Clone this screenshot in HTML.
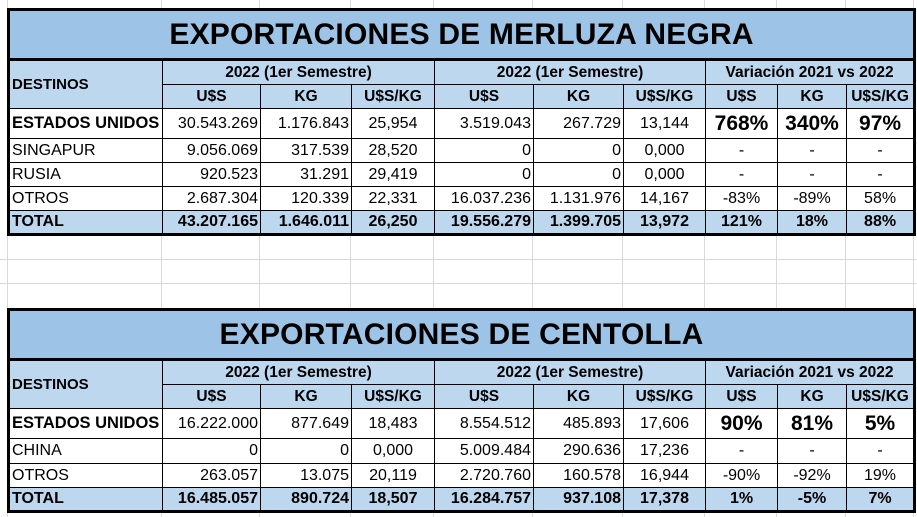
<!DOCTYPE html>
<html><head><meta charset="utf-8"><style>
*{margin:0;padding:0;box-sizing:border-box}
body{width:917px;height:517px;background:#fff;position:relative;overflow:hidden;font-family:"Liberation Sans",Arial,sans-serif;color:#000}
.gv{position:absolute;top:0;width:1px;height:517px;background:#d9d9d9}
.gh{position:absolute;left:0;height:1px;width:917px;background:#d9d9d9}
table{position:absolute;left:7px;width:906px;border-collapse:collapse;table-layout:fixed;border:3px solid #000;background:#fff}
td{border:1px solid #000;font-size:16px;padding:0 2px;white-space:nowrap;overflow:hidden;line-height:1}
td.t{background:#9dc3e6;font-size:30px;font-weight:bold;text-align:center;border-bottom:3px solid #000;letter-spacing:0.2px}
.h td{background:#bdd7ee;font-weight:bold;text-align:center;font-size:15.5px}
td.d{background:#bdd7ee;font-weight:bold;text-align:left;font-size:15px}
.r{text-align:right}.c{text-align:center}
.eu td{font-size:16px}
.eu td.n{font-weight:bold;font-size:16.5px;text-align:left;padding-left:2px}
.eu td.b{font-weight:bold;font-size:21px;text-align:center}
.tot td{background:#bdd7ee;font-weight:bold}
</style></head><body>
<div class="gv" style="left:7px"></div><div class="gv" style="left:161px"></div><div class="gv" style="left:259px"></div><div class="gv" style="left:350px"></div><div class="gv" style="left:433px"></div><div class="gv" style="left:532px"></div><div class="gv" style="left:622px"></div><div class="gv" style="left:704px"></div><div class="gv" style="left:776px"></div><div class="gv" style="left:845px"></div><div class="gv" style="left:913px"></div>
<div class="gh" style="top:259px"></div><div class="gh" style="top:283px"></div>

<table style="top:8px;height:226px">
<colgroup><col style="width:154px"><col style="width:98px"><col style="width:91px"><col style="width:83px"><col style="width:99px"><col style="width:90px"><col style="width:82px"><col style="width:72px"><col style="width:69px"><col style="width:68px"></colgroup>
<tr style="height:50px"><td class="t" colspan="10">EXPORTACIONES DE MERLUZA NEGRA</td></tr>
<tr class="h" style="height:25px"><td class="d" rowspan="2">DESTINOS</td><td colspan="3">2022 (1er Semestre)</td><td colspan="3">2022 (1er Semestre)</td><td colspan="3">Variación 2021 vs 2022</td></tr>
<tr class="h" style="height:24px"><td>U$S</td><td>KG</td><td>U$S/KG</td><td>U$S</td><td>KG</td><td>U$S/KG</td><td>U$S</td><td>KG</td><td>U$S/KG</td></tr>
<tr class="eu" style="height:30px"><td class="n">ESTADOS UNIDOS</td><td class="r">30.543.269</td><td class="r">1.176.843</td><td class="c">25,954</td><td class="r">3.519.043</td><td class="r">267.729</td><td class="c">13,144</td><td class="b">768%</td><td class="b">340%</td><td class="b">97%</td></tr>
<tr style="height:24px"><td>SINGAPUR</td><td class="r">9.056.069</td><td class="r">317.539</td><td class="c">28,520</td><td class="r">0</td><td class="r">0</td><td class="c">0,000</td><td class="c">-</td><td class="c">-</td><td class="c">-</td></tr>
<tr style="height:24px"><td>RUSIA</td><td class="r">920.523</td><td class="r">31.291</td><td class="c">29,419</td><td class="r">0</td><td class="r">0</td><td class="c">0,000</td><td class="c">-</td><td class="c">-</td><td class="c">-</td></tr>
<tr style="height:24px"><td>OTROS</td><td class="r">2.687.304</td><td class="r">120.339</td><td class="c">22,331</td><td class="r">16.037.236</td><td class="r">1.131.976</td><td class="c">14,167</td><td class="c">-83%</td><td class="c">-89%</td><td class="c">58%</td></tr>
<tr class="tot" style="height:24px"><td>TOTAL</td><td class="r">43.207.165</td><td class="r">1.646.011</td><td class="c">26,250</td><td class="r">19.556.279</td><td class="r">1.399.705</td><td class="c">13,972</td><td class="c">121%</td><td class="c">18%</td><td class="c">88%</td></tr>
</table>

<table style="top:308px;height:203px">
<colgroup><col style="width:154px"><col style="width:98px"><col style="width:91px"><col style="width:83px"><col style="width:99px"><col style="width:90px"><col style="width:82px"><col style="width:72px"><col style="width:69px"><col style="width:68px"></colgroup>
<tr style="height:50px"><td class="t" colspan="10">EXPORTACIONES DE CENTOLLA</td></tr>
<tr class="h" style="height:25px"><td class="d" rowspan="2">DESTINOS</td><td colspan="3">2022 (1er Semestre)</td><td colspan="3">2022 (1er Semestre)</td><td colspan="3">Variación 2021 vs 2022</td></tr>
<tr class="h" style="height:24px"><td>U$S</td><td>KG</td><td>U$S/KG</td><td>U$S</td><td>KG</td><td>U$S/KG</td><td>U$S</td><td>KG</td><td>U$S/KG</td></tr>
<tr class="eu" style="height:30px"><td class="n">ESTADOS UNIDOS</td><td class="r">16.222.000</td><td class="r">877.649</td><td class="c">18,483</td><td class="r">8.554.512</td><td class="r">485.893</td><td class="c">17,606</td><td class="b">90%</td><td class="b">81%</td><td class="b">5%</td></tr>
<tr style="height:25px"><td>CHINA</td><td class="r">0</td><td class="r">0</td><td class="c">0,000</td><td class="r">5.009.484</td><td class="r">290.636</td><td class="c">17,236</td><td class="c">-</td><td class="c">-</td><td class="c">-</td></tr>
<tr style="height:24px"><td>OTROS</td><td class="r">263.057</td><td class="r">13.075</td><td class="c">20,119</td><td class="r">2.720.760</td><td class="r">160.578</td><td class="c">16,944</td><td class="c">-90%</td><td class="c">-92%</td><td class="c">19%</td></tr>
<tr class="tot" style="height:24px"><td>TOTAL</td><td class="r">16.485.057</td><td class="r">890.724</td><td class="c">18,507</td><td class="r">16.284.757</td><td class="r">937.108</td><td class="c">17,378</td><td class="c">1%</td><td class="c">-5%</td><td class="c">7%</td></tr>
</table>
</body></html>
